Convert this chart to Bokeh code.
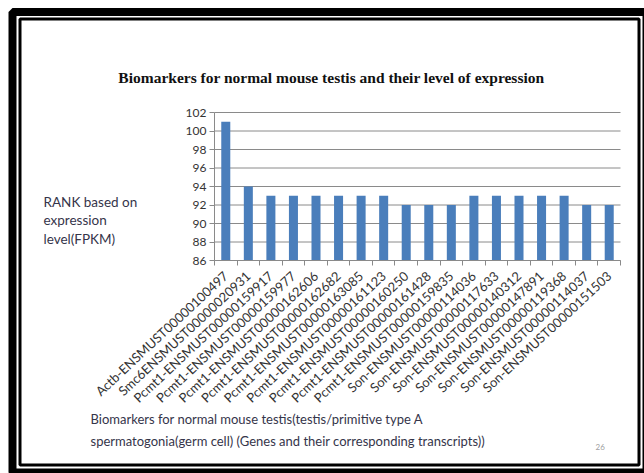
import math
from bokeh.plotting import figure
from bokeh.models import (ColumnDataSource, Range1d, FixedTicker, Label, BoxAnnotation)
from bokeh.embed import file_html
from bokeh.resources import INLINE

# ---- data ----
genes = [
    "Actb-ENSMUST00000100497",
    "Smc6ENSMUST00000020931",
    "Pcmt1-ENSMUST00000159917",
    "Pcmt1-ENSMUST00000159977",
    "Pcmt1-ENSMUST00000162606",
    "Pcmt1-ENSMUST00000162682",
    "Pcmt1-ENSMUST00000163085",
    "Pcmt1-ENSMUST00000161123",
    "Pcmt1-ENSMUST00000160250",
    "Pcmt1-ENSMUST00000161428",
    "Pcmt1-ENSMUST00000159835",
    "Son-ENSMUST00000114036",
    "Son-ENSMUST00000117633",
    "Son-ENSMUST00000140312",
    "Son-ENSMUST00000147891",
    "Son-ENSMUST00000119368",
    "Son-ENSMUST00000114037",
    "Son-ENSMUST00000151503",
]
rank = [101, 94, 93, 93, 93, 93, 93, 93, 92, 92, 92, 93, 93, 93, 93, 93, 92, 92]
y_ticks = [86, 88, 90, 92, 94, 96, 98, 100, 102]

title_text = "Biomarkers for normal mouse testis and their level of expression"
y_title = ["RANK based on", "expression", "level(FPKM)"]
x_title = ["Biomarkers for normal mouse testis(testis/primitive type A",
           "spermatogonia(germ cell) (Genes and their corresponding  transcripts))"]
page_no = "26"

# ---- layout constants (canvas px) ----
W, H = 644, 473
FL, FR, FT, FB = 214, 620, 112, 260   # chart area edges on the canvas

n = len(genes)
y0, y1 = y_ticks[0], y_ticks[-1]
xc = [i + 0.5 for i in range(n)]
src = ColumnDataSource(dict(x=xc, top=rank, bottom=[y0] * n))

# the plot frame covers the whole canvas; the chart area is placed through the ranges
kx = n / (FR - FL)
ky = (y1 - y0) / (FB - FT)
xr = Range1d(0 - FL * kx, n + (W - FR) * kx)
yr = Range1d(y0 - (H - FB) * ky, y1 + FT * ky)

p = figure(width=W, height=H, output_backend="svg", toolbar_location=None,
           x_range=xr, y_range=yr,
           min_border_left=0, min_border_right=0,
           min_border_top=0, min_border_bottom=0)
p.outline_line_color = None
p.background_fill_color = "white"
p.border_fill_color = "white"
p.xgrid.visible = False
p.ygrid.visible = False

# horizontal grid lines at the y ticks
p.segment(x0=[0] * len(y_ticks), x1=[n] * len(y_ticks), y0=y_ticks, y1=y_ticks,
          line_color="#8a8a8a", line_width=1)

p.vbar(x="x", top="top", bottom="bottom", width=0.4, source=src,
       fill_color="#4A7EBB", line_color=None)

# y axis
yax = p.yaxis[0]
yax.fixed_location = 0
yax.bounds = (y0, y1)
yax.ticker = FixedTicker(ticks=y_ticks)
yax.axis_line_color = "#8a8a8a"
yax.major_tick_line_color = "#8a8a8a"
yax.major_tick_out = 5
yax.major_tick_in = 0
yax.minor_tick_line_color = None
yax.major_label_text_font = "Lato"
yax.major_label_text_font_size = "12px"
yax.major_label_text_color = "#333333"
yax.major_label_standoff = 3

# x axis: labels at bar centres, ticks at category boundaries
xax = p.xaxis[0]
xax.fixed_location = y0
xax.bounds = (0, n)
xax.ticker = FixedTicker(ticks=xc, minor_ticks=list(range(n + 1)))
xax.major_label_overrides = {x: g for x, g in zip(xc, genes)}
xax.major_label_orientation = math.radians(43)
xax.major_label_text_font = "Lato"
xax.major_label_text_font_size = "13px"
xax.major_label_text_color = "#333333"
xax.major_label_standoff = 8
xax.axis_line_color = "#8a8a8a"
xax.major_tick_out = 0
xax.major_tick_in = 0
xax.minor_tick_line_color = "#8a8a8a"
xax.minor_tick_out = 5
xax.minor_tick_in = 0


def canvas_label(text, cx, cy, size, font="Lato", color="#404040",
                 align="left", style="normal"):
    p.add_layout(Label(x=cx, y=H - cy, x_units="screen", y_units="screen",
                       text=text, text_font=font, text_font_size=size,
                       text_color=color, text_align=align,
                       text_baseline="middle", text_font_style=style))


canvas_label(title_text, 331, 77, "15.5px", font="Liberation Serif",
             color="#111111", align="center", style="bold")
for i, t in enumerate(y_title):
    canvas_label(t, 43, 201 + 18.5 * i, "13.5px", color="#35354a")
for i, t in enumerate(x_title):
    canvas_label(t, 90, 418 + 22 * i, "13px", color="#35354a")
canvas_label(page_no, 595, 446, "8px", color="#a0a0a0")


# double frame around the slide
def frame_box(l, t, r, b, lw):
    p.add_layout(BoxAnnotation(left=l, right=r, top=H - t, bottom=H - b,
                               left_units="screen", right_units="screen",
                               top_units="screen", bottom_units="screen",
                               fill_color=None, fill_alpha=0,
                               line_color="black", line_alpha=1,
                               line_width=lw, level="overlay"))


frame_box(12, 11.5, 646, 472, 8)
frame_box(19.5, 18.5, 638.5, 464.5, 3)

open("out.html", "w").write(file_html(p, INLINE))
